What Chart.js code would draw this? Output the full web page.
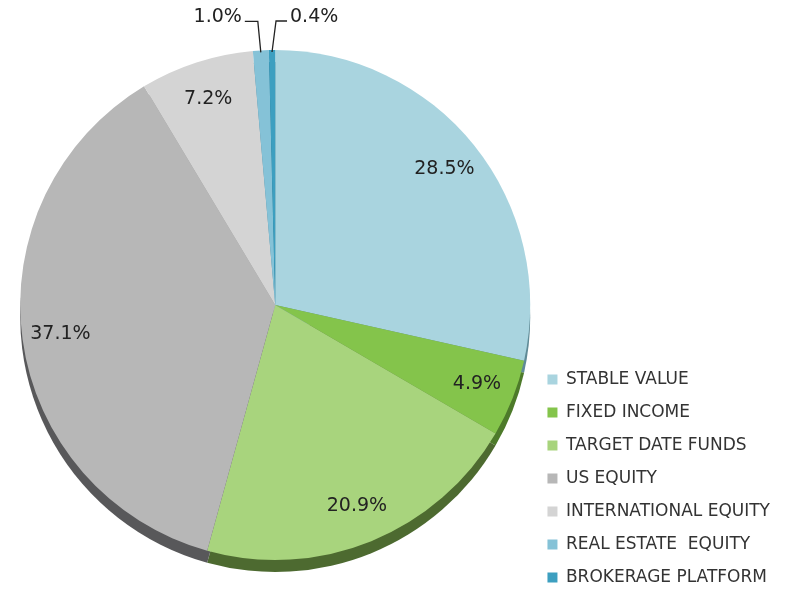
<!DOCTYPE html>
<html>
<head>
<meta charset="utf-8">
<script src="https://cdn.jsdelivr.net/npm/chart.js@4"></script>
<style>
  html, body { margin: 0; padding: 0; background: #fff; }
  #wrap { width: 793px; height: 590px; }
</style>
</head>
<body>
<div id="wrap"><canvas id="pieCanvas"></canvas></div>
<script>
var categories = ['STABLE VALUE', 'FIXED INCOME', 'TARGET DATE FUNDS', 'US EQUITY',
                  'INTERNATIONAL EQUITY', 'REAL ESTATE  EQUITY', 'BROKERAGE PLATFORM'];
var shares = [28.5, 4.9, 20.9, 37.1, 7.2, 1.0, 0.4];
var colors = ['#a9d4df', '#84c44b', '#a8d47d', '#b7b7b7', '#d4d4d4', '#85c2d7', '#3d9fc0'];
var sideColors = ['#5f8a96', '#4d7a2a', '#4d6a30', '#58585a', '#8a8a8a', '#4f8aa0', '#23708c'];

var fontFamily = "'DejaVu Sans', sans-serif";

// darker rim under the pie, drawn from each arc's own geometry
var rimPlugin = {
    id: 'rim',
    beforeDatasetsDraw: function (chart) {
        var ctx = chart.ctx;
        var arcs = chart.getDatasetMeta(0).data;
        ctx.save();
        arcs.forEach(function (arc, i) {
            var p = arc.getProps(['x', 'y', 'startAngle', 'endAngle', 'outerRadius']);
            ctx.beginPath();
            ctx.moveTo(p.x, p.y + 12);
            ctx.arc(p.x, p.y + 12, p.outerRadius, p.startAngle, p.endAngle);
            ctx.closePath();
            ctx.fillStyle = sideColors[i];
            ctx.fill();
        });
        ctx.restore();
    }
};

var labelPlugin = {
    id: 'sliceLabels',
    afterDatasetsDraw: function (chart) {
        var ctx = chart.ctx;
        var arcs = chart.getDatasetMeta(0).data;
        ctx.save();
        ctx.font = '19px ' + fontFamily;
        ctx.fillStyle = '#222';
        ctx.strokeStyle = '#222';
        ctx.lineWidth = 1.3;
        ctx.textBaseline = 'middle';
        arcs.forEach(function (arc, i) {
            var p = arc.getProps(['x', 'y', 'startAngle', 'endAngle', 'outerRadius']);
            var mid = (p.startAngle + p.endAngle) / 2;
            var txt = shares[i].toFixed(1) + '%';
            if (shares[i] < 2) {
                // small slices: leader line up and out, first to the left, last to the right
                var left = i < arcs.length - 1;
                var ex = p.x + Math.cos(mid) * p.outerRadius;
                var ey = p.y + Math.sin(mid) * (p.outerRadius - 2);
                var kx = ex + (left ? -3 : 4);
                var ky = ey - 31;
                var hx = kx + (left ? -13 : 11);
                ctx.beginPath();
                ctx.moveTo(ex, ey);
                ctx.lineTo(kx, ky);
                ctx.lineTo(hx, ky);
                ctx.stroke();
                ctx.textAlign = left ? 'right' : 'left';
                ctx.fillText(txt, hx + (left ? -3 : 3), ky - 4);
            } else {
                var r = p.outerRadius * 0.85;
                ctx.textAlign = 'center';
                ctx.fillText(txt, p.x + Math.cos(mid) * r, p.y + Math.sin(mid) * r);
            }
        });
        ctx.restore();
    }
};

new Chart(document.getElementById('pieCanvas'), {
    type: 'pie',
    data: {
        labels: categories,
        datasets: [{
            data: shares,
            backgroundColor: colors,
            borderWidth: 0,
            radius: 255
        }]
    },
    options: {
        responsive: true,
        maintainAspectRatio: false,
        animation: false,
        layout: { padding: { top: 20, bottom: -12, left: 19, right: 13 } },
        plugins: {
            tooltip: { enabled: false },
            legend: {
                position: 'right',
                align: 'end',
                labels: {
                    boxWidth: 10,
                    boxHeight: 10,
                    padding: 16,
                    color: '#333',
                    font: { family: fontFamily, size: 17 }
                }
            }
        }
    },
    plugins: [rimPlugin, labelPlugin]
});
</script>
</body>
</html>
